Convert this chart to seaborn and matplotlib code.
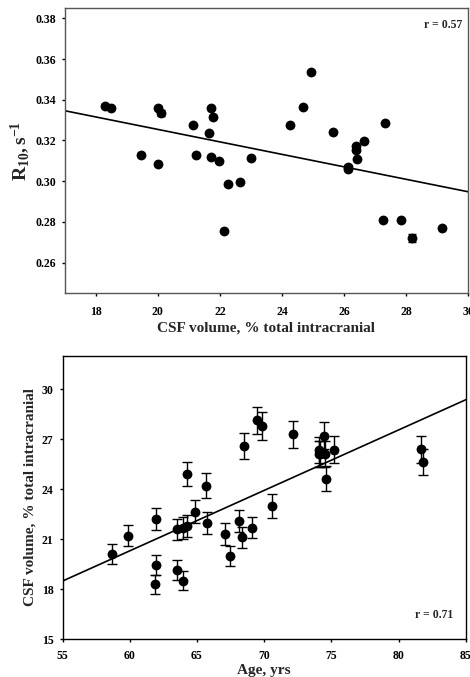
import numpy as np
import pandas as pd
import matplotlib
matplotlib.use("Agg")
import matplotlib.pyplot as plt
import seaborn as sns

# top panel: R10 vs CSF volume
csf_top = [18.30, 18.50, 19.46, 20.00, 20.11, 20.00, 21.12, 21.23, 21.64, 21.71,
           21.78, 21.71, 21.98, 22.12, 22.26, 22.66, 23.01, 24.27, 24.67, 24.92,
           25.64, 26.14, 26.14, 26.38, 26.38, 26.43, 26.65, 27.32, 27.26, 27.83,
           28.18, 29.17]
r10 = [0.3371, 0.3359, 0.3131, 0.3361, 0.3335, 0.3082, 0.3276, 0.3128, 0.3236, 0.3359,
       0.3313, 0.3119, 0.3098, 0.2756, 0.2986, 0.2998, 0.3116, 0.3277, 0.3366, 0.3534,
       0.3243, 0.3072, 0.3059, 0.3175, 0.3151, 0.3110, 0.3195, 0.3285, 0.2809, 0.2807,
       0.2722, 0.2769]
r10_err = [0.0008, 0.0005, 0.0005, 0.0006, 0.0016, 0.0005, 0.0005, 0.0005, 0.0005, 0.0005,
           0.0005, 0.0005, 0.0005, 0.0005, 0.0005, 0.0005, 0.0005, 0.0005, 0.0005, 0.0005,
           0.0005, 0.0005, 0.0005, 0.0005, 0.0005, 0.0005, 0.0005, 0.0005, 0.0005, 0.0005,
           0.0020, 0.0005]
fit_top_x = [17, 30]
fit_top_y = [0.3346, 0.2948]

# bottom panel: CSF volume vs age
age = [58.67, 59.86, 61.97, 61.97, 61.87, 63.49, 63.49, 63.98, 63.98, 64.28,
       64.28, 64.88, 65.67, 65.77, 67.08, 67.46, 68.15, 68.37, 68.47, 69.07,
       69.47, 69.86, 70.58, 72.17, 74.06, 74.06, 74.16, 74.45, 74.50, 74.57,
       75.17, 81.65, 81.85]
csf_bot = [20.11, 21.22, 22.24, 19.45, 18.31, 21.60, 19.15, 18.51, 21.68, 21.80,
           24.89, 22.66, 24.21, 21.98, 21.32, 19.99, 22.10, 21.12, 26.61, 21.70,
           28.12, 27.79, 22.98, 27.29, 26.33, 26.13, 26.09, 27.21, 26.09, 24.63,
           26.37, 26.39, 25.61]
csf_err = [0.59, 0.63, 0.66, 0.58, 0.57, 0.63, 0.58, 0.57, 0.64, 0.64,
           0.73, 0.67, 0.73, 0.65, 0.64, 0.60, 0.66, 0.64, 0.78, 0.65,
           0.83, 0.82, 0.70, 0.82, 0.78, 0.78, 0.78, 0.82, 0.78, 0.75,
           0.79, 0.80, 0.78]
fit_bot_x = [55, 85]
fit_bot_y = [18.49, 29.36]

sns.set_style("ticks")
plt.rcParams['font.family'] = ['Liberation Serif', 'DejaVu Serif']
plt.rcParams['font.weight'] = 'bold'
plt.rcParams['mathtext.fontset'] = 'custom'
plt.rcParams['mathtext.rm'] = 'Liberation Serif:bold'
plt.rcParams['mathtext.bf'] = 'Liberation Serif:bold'
plt.rcParams['mathtext.it'] = 'Liberation Serif:bold'

fig = plt.figure(figsize=(4.7, 6.77), dpi=100)
ax1 = fig.add_axes([0.138, 0.567, 0.858, 0.421])
ax2 = fig.add_axes([0.133, 0.0557, 0.858, 0.4189])

df_top = pd.DataFrame({'x': csf_top, 'y': r10, 'e': r10_err})
df_bot = pd.DataFrame({'x': age, 'y': csf_bot, 'e': csf_err})

# top
ax1.errorbar(df_top['x'], df_top['y'], yerr=df_top['e'], fmt='none', ecolor='black',
             elinewidth=1, capsize=3, capthick=1, zorder=2)
sns.scatterplot(data=df_top, x='x', y='y', ax=ax1, color='black', s=50,
                edgecolor='black', linewidth=0, zorder=3)
sns.lineplot(x=fit_top_x, y=fit_top_y, ax=ax1, color='black', linewidth=1.2, zorder=1)
ax1.set_xlim(17, 30)
ax1.set_ylim(0.245, 0.385)
ax1.set_xticks(np.arange(18, 31, 2))
ax1.set_yticks(np.arange(0.26, 0.381, 0.02))
ax1.set_yticklabels([f"{v:.2f}" for v in np.arange(0.26, 0.381, 0.02)])
ax1.set_xlabel("CSF volume, % total intracranial", fontsize=11, fontweight='bold', labelpad=2)
ax1.set_ylabel(r"$\mathrm{R_{10}, s^{-1}}$", fontsize=14, labelpad=2)
ax1.text(0.985, 0.94, "r = 0.57", transform=ax1.transAxes, ha='right', va='center',
         fontsize=8.5, fontweight='bold')

# bottom
ax2.errorbar(df_bot['x'], df_bot['y'], yerr=df_bot['e'], fmt='none', ecolor='black',
             elinewidth=1, capsize=3.5, capthick=1, zorder=2)
sns.scatterplot(data=df_bot, x='x', y='y', ax=ax2, color='black', s=50,
                edgecolor='black', linewidth=0, zorder=3)
sns.lineplot(x=fit_bot_x, y=fit_bot_y, ax=ax2, color='black', linewidth=1.2, zorder=1)
ax2.set_xlim(55, 85)
ax2.set_ylim(15, 32)
ax2.set_xticks(np.arange(55, 86, 5))
ax2.set_yticks(np.arange(15, 31, 3))
ax2.set_xlabel("Age, yrs", fontsize=11, fontweight='bold', labelpad=2)
ax2.set_ylabel("CSF volume, % total intracranial", fontsize=11, fontweight='bold', labelpad=4)
ax2.text(0.97, 0.085, "r = 0.71", transform=ax2.transAxes, ha='right', va='center',
         fontsize=8.5, fontweight='bold')

for ax, spc in ((ax1, '#555555'), (ax2, 'black')):
    for sp in ax.spines.values():
        sp.set_visible(True)
        sp.set_color(spc)
        sp.set_linewidth(1)
    ax.tick_params(axis='both', direction='out', length=2.5, width=1, labelsize=8.5,
                   colors='black', pad=4)
    for lbl in ax.get_xticklabels() + ax.get_yticklabels():
        lbl.set_fontweight('bold')
ax1.tick_params(axis='x', pad=7)
ax2.tick_params(axis='x', pad=5)

fig.savefig("out.png", dpi=100)
